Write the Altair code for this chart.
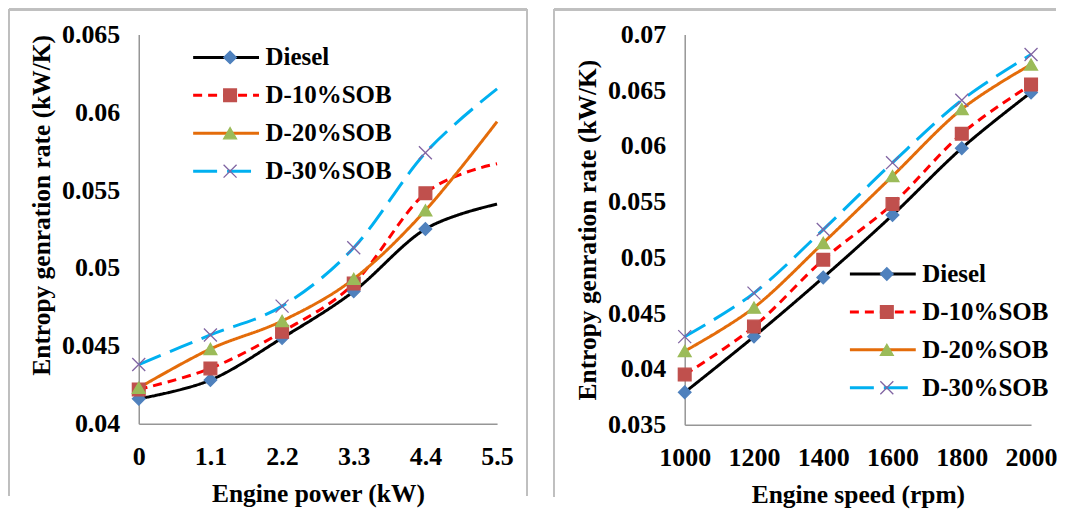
import altair as alt
import pandas as pd

series = ["Diesel", "D-10%SOB", "D-20%SOB", "D-30%SOB"]

power = [0, 1.1, 2.2, 3.3, 4.4, 5.5]
power_diesel = [0.0416, 0.0428, 0.0455, 0.0485, 0.0525, 0.0541]
power_d10 = [0.0422, 0.04355, 0.0459, 0.0490, 0.0548, 0.0567]
power_d20 = [0.0423, 0.0448, 0.0466, 0.0493, 0.0537, 0.0594]
power_d30 = [0.0438, 0.0457, 0.04755, 0.0513, 0.0574, 0.0615]

speed = [1000, 1200, 1400, 1600, 1800, 2000]
speed_diesel = [0.0379, 0.0429, 0.0482, 0.0538, 0.0598, 0.0648]
speed_d10 = [0.0395, 0.0438, 0.0498, 0.0548, 0.0611, 0.0655]
speed_d20 = [0.0416, 0.0455, 0.0513, 0.0573, 0.0633, 0.0673]
speed_d30 = [0.0429, 0.0468, 0.0525, 0.0585, 0.0641, 0.0682]

power_xticks = [0, 1.1, 2.2, 3.3, 4.4, 5.5]
power_yticks = [0.04, 0.045, 0.05, 0.055, 0.06, 0.065]
speed_xticks = [1000, 1200, 1400, 1600, 1800, 2000]
speed_yticks = [0.035, 0.04, 0.045, 0.05, 0.055, 0.06, 0.065, 0.07]

line_colors = ["#000000", "#FF0000", "#E46C0A", "#00B0F0"]
dashes = [[1, 0], [9, 6], [1, 0], [24, 10]]
marker_fills = ["#4F81BD", "#C0504D", "#9BBB59", "transparent"]
marker_strokes = ["#4F81BD", "#C0504D", "#9BBB59", "#8064A2"]
marker_shapes = ["diamond", "square", "triangle-up", "M-1,-1L1,1M-1,1L1,-1"]
marker_sizes = [160, 169, 200, 150]

FONT = "'Liberation Serif', 'Times New Roman', 'DejaVu Serif', serif"


def make_df(xs, ys_list, tag):
    rows = []
    for s, ys in zip(series, ys_list):
        for x, y in zip(xs, ys):
            rows.append({"x": x, "y": y, "series": tag + s, "mseries": "m" + tag + s})
    return pd.DataFrame(rows)


def panel(df, tag, xdom, xticks, xfmt, xtitle, ydom, yticks, ytitle, yanchor,
          w, h, legx, legy, point_filter, left_rule, right_rule, draw_right):
    sdom = [tag + s for s in series]
    mdom = ["m" + tag + s for s in series]
    label_expr = "replace(datum.label, '%s', '')" % tag
    line_legend = alt.Legend(
        title=None, orient="none", legendX=legx, legendY=legy, direction="vertical",
        symbolType="stroke", symbolSize=4356, symbolStrokeWidth=3,
        clipHeight=38, rowPadding=0, padding=0, labelOffset=5, labelLimit=0,
        labelFont=FONT, labelFontWeight="bold", labelFontSize=25, labelColor="black",
        labelExpr=label_expr, zindex=1,
    )
    pt_legend = alt.Legend(
        title=None, orient="none", legendX=legx + 33 - 7, legendY=legy, direction="vertical",
        clipHeight=38, rowPadding=0, padding=0, labelLimit=0,
        labelFont=FONT, labelFontWeight="bold", labelFontSize=25, labelOpacity=0,
        labelExpr="''", symbolStrokeWidth=1.3, symbolOpacity=1, zindex=2,
    )
    xenc = alt.X("x:Q", scale=alt.Scale(domain=xdom, nice=False, zero=False),
                 axis=alt.Axis(values=xticks, format=xfmt, title=xtitle,
                               labelFlush=False, labelOverlap=False,
                               labelPadding=20, titlePadding=12))
    yenc = alt.Y("y:Q", scale=alt.Scale(domain=ydom, nice=False, zero=False),
                 axis=alt.Axis(values=yticks, format=".3~f", title=ytitle,
                               labelFlush=False, labelOverlap=False,
                               labelPadding=19, titlePadding=7, titleAnchor=yanchor))
    base = alt.Chart(df)
    lines = base.mark_line(interpolate="cardinal", strokeWidth=3).encode(
        x=xenc, y=yenc,
        color=alt.Color("series:N", scale=alt.Scale(domain=sdom, range=line_colors),
                        legend=line_legend),
        strokeDash=alt.StrokeDash("series:N", scale=alt.Scale(domain=sdom, range=dashes),
                                  legend=line_legend),
    )
    pts_base = base
    if point_filter is not None:
        pts_base = base.transform_filter(point_filter)
    pts = pts_base.mark_point(filled=True, strokeWidth=1.3, opacity=1).encode(
        x="x:Q", y="y:Q",
        fill=alt.Fill("mseries:N", scale=alt.Scale(domain=mdom, range=marker_fills),
                      legend=pt_legend),
        stroke=alt.Stroke("mseries:N", scale=alt.Scale(domain=mdom, range=marker_strokes),
                          legend=pt_legend),
        shape=alt.Shape("mseries:N", scale=alt.Scale(domain=mdom, range=marker_shapes),
                        legend=pt_legend),
        size=alt.Size("mseries:N", scale=alt.Scale(domain=mdom, range=marker_sizes),
                      legend=pt_legend),
    )
    bc = "#BFBFBF"
    top = alt.Chart(df).mark_rule(color=bc, strokeWidth=1.5).encode(
        x=alt.value(left_rule), x2=alt.value(right_rule), y=alt.value(-25))
    lft = alt.Chart(df).mark_rule(color=bc, strokeWidth=1.5).encode(
        x=alt.value(left_rule), y=alt.value(-25), y2=alt.value(h + 72))
    layers = [top, lft]
    if draw_right:
        rgt = alt.Chart(df).mark_rule(color=bc, strokeWidth=1.5).encode(
            x=alt.value(right_rule), y=alt.value(-25), y2=alt.value(h + 72))
        layers.append(rgt)
    layers += [lines, pts]
    return alt.layer(*layers).properties(width=w, height=h)


df_power = make_df(power, [power_diesel, power_d10, power_d20, power_d30], "")
df_speed = make_df(speed, [speed_diesel, speed_d10, speed_d20, speed_d30], " ")

left = panel(df_power, "", [0, 5.5], power_xticks, ".1~f", "Engine power (kW)",
             [0.04, 0.065], power_yticks, "Entropy genration rate (kW/K)", "end",
             359, 390, 53, 4, "datum.x <= 4.5", -130, 389, True)
right = panel(df_speed, " ", [1000, 2000], speed_xticks, "d", "Engine speed (rpm)",
              [0.035, 0.07], speed_yticks, "Entropy genration rate (kW/K)", "middle",
              347, 391, 164, 221, None, -131, 372, False)

chart = alt.hconcat(left, right, spacing=25, padding=0, background="white").resolve_scale(
    color="independent", strokeDash="independent", fill="independent",
    stroke="independent", shape="independent", size="independent"
).resolve_legend(
    color="independent", strokeDash="independent", fill="independent",
    stroke="independent", shape="independent", size="independent"
).configure_view(
    stroke=None
).configure_axis(
    grid=False, ticks=False, domainColor="#969696", domainWidth=1.5,
    labelFont=FONT, labelFontWeight="bold", labelFontSize=26, labelColor="black",
    titleFont=FONT, titleFontWeight="bold", titleFontSize=25.5, titleColor="black",
)

chart.save("out.html", embed_options={"renderer": "svg", "actions": False})
